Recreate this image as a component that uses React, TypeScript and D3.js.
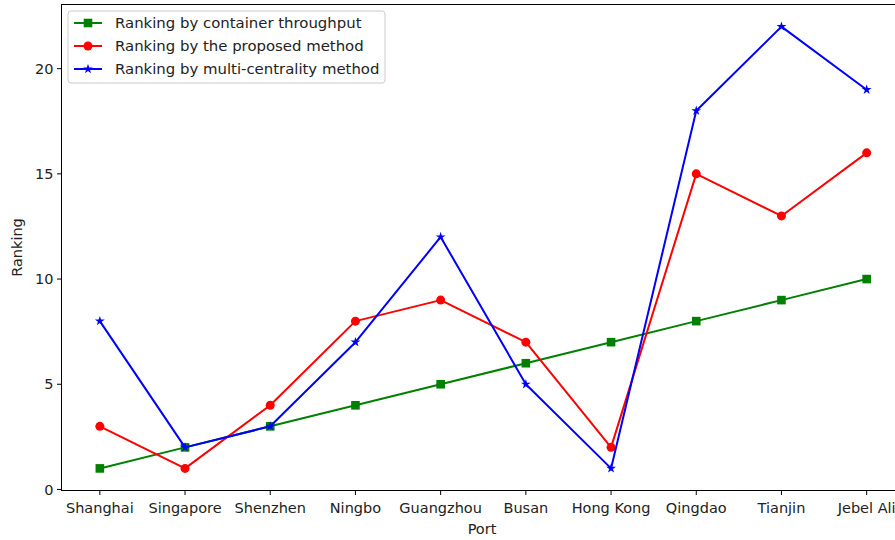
import React from "react";
import * as d3 from "d3";

const ports = ["Shanghai", "Singapore", "Shenzhen", "Ningbo", "Guangzhou", "Busan", "Hong Kong", "Qingdao", "Tianjin", "Jebel Ali"];
const throughputRank = [1, 2, 3, 4, 5, 6, 7, 8, 9, 10];
const proposedRank = [3, 1, 4, 8, 9, 7, 2, 15, 13, 16];
const multiCentralityRank = [8, 2, 3, 7, 12, 5, 1, 18, 22, 19];
const yTicks = [0, 5, 10, 15, 20];

const seriesList = [
  { name: "Ranking by container throughput", values: throughputRank, color: "#008000", marker: "square" },
  { name: "Ranking by the proposed method", values: proposedRank, color: "#ff0000", marker: "circle" },
  { name: "Ranking by multi-centrality method", values: multiCentralityRank, color: "#0000ff", marker: "star" },
];

const W = 895, H = 540;
const left = 61.5, right = 905, top = 4.5, bottom = 490.5;
const font = "DejaVu Sans, sans-serif";
const fs = 14.5;
const legendFs = 14.9;

function Marker({ type, x, y, color }: { type: string; x: number; y: number; color: string }) {
  if (type === "square") return <rect x={x - 4.3} y={y - 4.3} width={8.6} height={8.6} fill={color} />;
  if (type === "circle") return <circle cx={x} cy={y} r={4.5} fill={color} />;
  const p = d3.symbol().type(d3.symbolStar).size(30)();
  return <path d={p || ""} transform={`translate(${x},${y})`} fill={color} />;
}

export default function App() {
  const x = d3.scaleLinear().domain([-0.45, 9.45]).range([left, right]);
  const y = d3.scaleLinear().domain([-0.05, 23.05]).range([bottom, top]);
  const line = d3.line<number>().x((_, i) => x(i)).y((v) => y(v));

  return (
    <svg width={W} height={H} style={{ position: "absolute", left: 0, top: 0, background: "#fff" }}>
      {seriesList.map((s) => (
        <g key={s.name}>
          <path d={line(s.values) || ""} fill="none" stroke={s.color} strokeWidth={2} strokeLinejoin="round" />
          {s.values.map((v, i) => (
            <Marker key={i} type={s.marker} x={x(i)} y={y(v)} color={s.color} />
          ))}
        </g>
      ))}
      <rect x={left} y={top} width={right - left} height={bottom - top} fill="none" stroke="#000" strokeWidth={1} />
      {ports.map((p, i) => (
        <g key={p}>
          <line x1={x(i)} x2={x(i)} y1={bottom} y2={bottom + 4.5} stroke="#000" />
          <text x={x(i)} y={bottom + 22} textAnchor="middle" fontFamily={font} fontSize={fs} fill="#222">{p}</text>
        </g>
      ))}
      {yTicks.map((t) => (
        <g key={t}>
          <line x1={left - 4.5} x2={left} y1={y(t)} y2={y(t)} stroke="#000" />
          <text x={left - 8} y={y(t)} dy="0.36em" textAnchor="end" fontFamily={font} fontSize={fs} fill="#222">{t}</text>
        </g>
      ))}
      <text x={482} y={534} textAnchor="middle" fontFamily={font} fontSize={fs} fill="#222">Port</text>
      <text transform={`translate(22,${(top + bottom) / 2}) rotate(-90)`} textAnchor="middle" fontFamily={font} fontSize={fs} fill="#222">Ranking</text>
      <g transform="translate(68,11)">
        <rect x={0} y={0} width={317} height={72} rx={3} fill="#fff" fillOpacity={0.8} stroke="#ccc" />
        {seriesList.map((s, i) => (
          <g key={s.name} transform={`translate(0,${12 + i * 23})`}>
            <line x1={6} x2={34} y1={0} y2={0} stroke={s.color} strokeWidth={2} />
            <Marker type={s.marker} x={20} y={0} color={s.color} />
            <text x={47} y={0} dy="0.36em" fontFamily={font} fontSize={legendFs} fill="#222">{s.name}</text>
          </g>
        ))}
      </g>
    </svg>
  );
}
